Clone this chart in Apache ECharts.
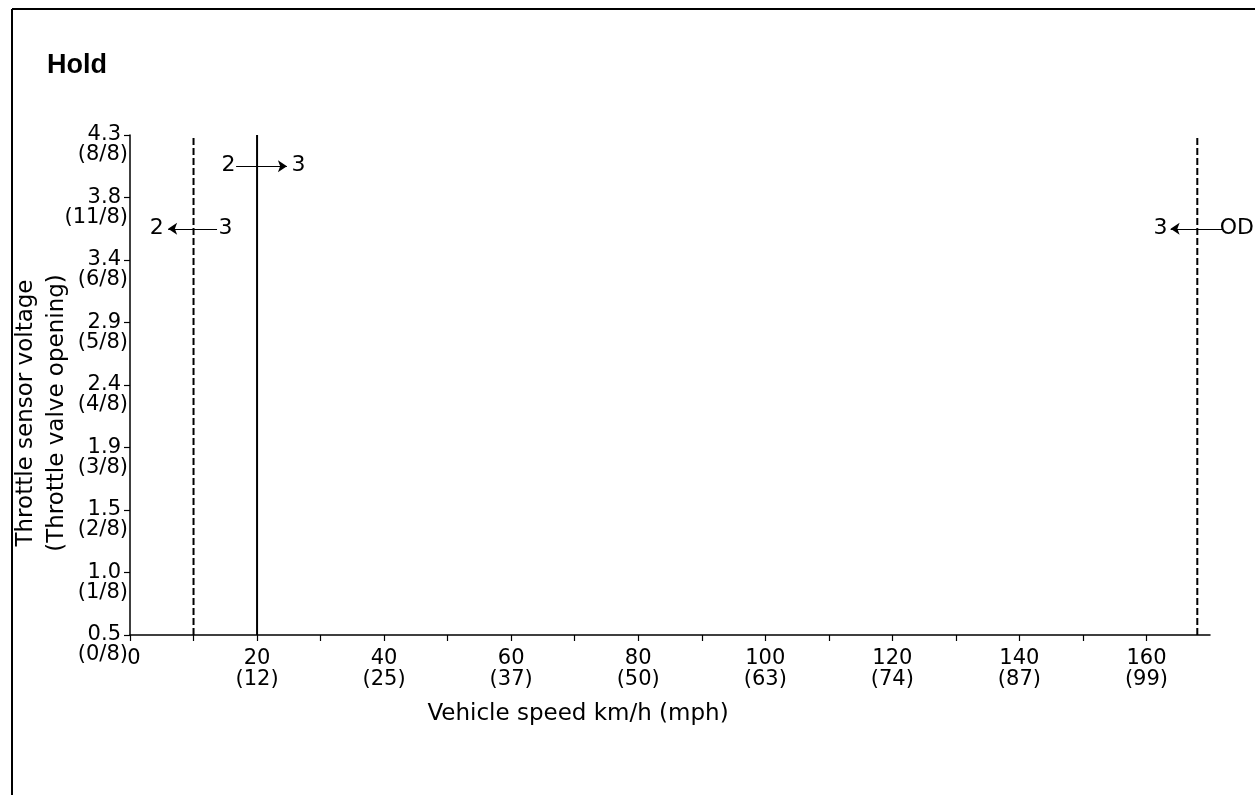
<!DOCTYPE html>
<html>
<head>
<meta charset="utf-8">
<script src="https://cdn.jsdelivr.net/npm/echarts@6/dist/echarts.min.js"></script>
<style>
html,body{margin:0;padding:0;background:#fff;}
#chart{width:1255px;height:795px;}
</style>
</head>
<body>
<div id="chart"></div>
<script>
// ---- data ----
const titleText = 'Hold';
const yVoltage = ['0.5','1.0','1.5','1.9','2.4','2.9','3.4','3.8','4.3'];
const yOpening = ['(0/8)','(1/8)','(2/8)','(3/8)','(4/8)','(5/8)','(6/8)','(11/8)','(8/8)'];
const yMin = 0;
const yMax = 8;
const xMin = 0;
const xMax = 170;
const xLabelKmh = [0, 20, 40, 60, 80, 100, 120, 140, 160];
const xLabelMph = ['', '12', '25', '37', '50', '63', '74', '87', '99'];
const xTickValues = [0, 10, 20, 30, 40, 50, 60, 70, 80, 90, 100, 110, 120, 130, 140, 150, 160];
const xAxisName = 'Vehicle speed km/h (mph)';
const yAxisName = 'Throttle sensor voltage\n(Throttle valve opening)';
// shift lines (km/h)
const downshiftSpeeds = [10, 168];
const upshiftSpeeds = [20];
// arrows: [fromX, toX, y]
const arrowUp23 = [16.7, 24.7, 7.5];
const arrowDown32 = [13.7, 6.0, 6.5];
const arrowDownOD3 = [172.0, 163.8, 6.5];
// gear labels: [text, x, y]
const gearLabels = [
  ['2', 15.6, 7.5], ['3', 26.6, 7.5],
  ['2', 4.3, 6.5], ['3', 15.1, 6.5],
  ['3', 162.3, 6.5], ['OD', 174.3, 6.5]
];

// ---- chart ----
const FONT = 'DejaVu Sans';
const chart = echarts.init(document.getElementById('chart'), null, {renderer: 'canvas'});

const vertSeries = [];
downshiftSpeeds.forEach(function (s) {
  vertSeries.push({
    type: 'line', data: [[s, yMin], [s, yMax]], symbol: 'none', clip: false,
    silent: true, animation: false,
    lineStyle: {color: '#000', width: 2, type: [7, 3]}
  });
});
upshiftSpeeds.forEach(function (s) {
  vertSeries.push({
    type: 'line', data: [[s, yMin], [s, yMax]], symbol: 'none', clip: false,
    silent: true, animation: false,
    lineStyle: {color: '#000', width: 2, type: 'solid'}
  });
});

const arrows = [arrowUp23, arrowDown32, arrowDownOD3].map(function (a) {
  return {coords: [[a[0], a[2]], [a[1], a[2]]]};
});

const option = {
  backgroundColor: '#fff',
  animation: false,
  title: {
    text: titleText, left: 42, top: 47,
    textStyle: {fontFamily: 'Liberation Sans', fontWeight: 'bold', fontSize: 27, color: '#000'}
  },
  graphic: [
    {type: 'line', shape: {x1: 12, y1: 9, x2: 1255, y2: 9}, style: {stroke: '#000', lineWidth: 2}},
    {type: 'line', shape: {x1: 12, y1: 9, x2: 12, y2: 795}, style: {stroke: '#000', lineWidth: 2}}
  ],
  grid: {left: 130, right: 45, top: 135, bottom: 160, containLabel: false, outerBoundsMode: 'none'},
  xAxis: {
    type: 'value', min: xMin, max: xMax,
    splitLine: {show: false},
    axisLine: {show: true, onZero: false, lineStyle: {color: '#000', width: 1.5}},
    axisTick: {show: true, length: 6, customValues: xTickValues, lineStyle: {color: '#000', width: 1.2}},
    axisLabel: {
      customValues: xLabelKmh, margin: 13, color: '#000',
      fontFamily: FONT, fontSize: 21, lineHeight: 21,
      formatter: function (v) {
        const i = xLabelKmh.indexOf(v);
        if (i < 0) return '';
        return xLabelMph[i] ? v + '\n(' + xLabelMph[i] + ')' : '{z|' + v + '}';
      },
      rich: {z: {fontFamily: FONT, fontSize: 21, lineHeight: 21, padding: [0, 0, 0, 8], color: '#000'}}
    },
    name: xAxisName, nameLocation: 'middle', nameGap: 68, nameMoveOverlap: false,
    nameTextStyle: {fontFamily: FONT, fontSize: 23, color: '#000', padding: [0, 184, 0, 0]}
  },
  yAxis: {
    type: 'value', min: yMin, max: yMax, interval: 1,
    splitLine: {show: false},
    axisLine: {show: true, onZero: false, lineStyle: {color: '#000', width: 1.5}},
    axisTick: {show: true, length: 6, lineStyle: {color: '#000', width: 1.2}},
    axisLabel: {
      margin: 2, color: '#000', fontFamily: FONT, fontSize: 21,
      showMinLabel: true, showMaxLabel: true, hideOverlap: false,
      formatter: function (v) {
        const i = Math.round(v);
        return '{s| }\n{n|' + yVoltage[i] + '}\n{p|' + yOpening[i] + '}';
      },
      rich: {
        s: {fontFamily: FONT, fontSize: 10, lineHeight: 20},
        n: {fontFamily: FONT, fontSize: 21, lineHeight: 20, padding: [0, 7, 0, 0], color: '#000'},
        p: {fontFamily: FONT, fontSize: 21, lineHeight: 20, color: '#000'}
      }
    },
    name: yAxisName, nameLocation: 'middle', nameGap: 57, nameMoveOverlap: false,
    nameTextStyle: {fontFamily: FONT, fontSize: 23, lineHeight: 31, color: '#000', padding: [0, 56, 0, 0]}
  },
  series: vertSeries.concat([
    {
      type: 'lines', coordinateSystem: 'cartesian2d', clip: false, silent: true,
      data: arrows,
      symbol: ['none', 'arrow'], symbolSize: [0, 9],
      lineStyle: {color: '#000', width: 1.2, opacity: 1, curveness: 0}
    },
    {
      type: 'scatter', clip: false, silent: true, symbolSize: 1,
      itemStyle: {color: '#fff', opacity: 0},
      data: gearLabels.map(function (g) { return {name: g[0], value: [g[1], g[2]]}; }),
      label: {
        show: true, position: [0, 0], align: 'center', verticalAlign: 'middle',
        formatter: '{b}', opacity: 1,
        fontFamily: FONT, fontSize: 22, color: '#000'
      }
    }
  ])
};
chart.setOption(option);
</script>
</body>
</html>
